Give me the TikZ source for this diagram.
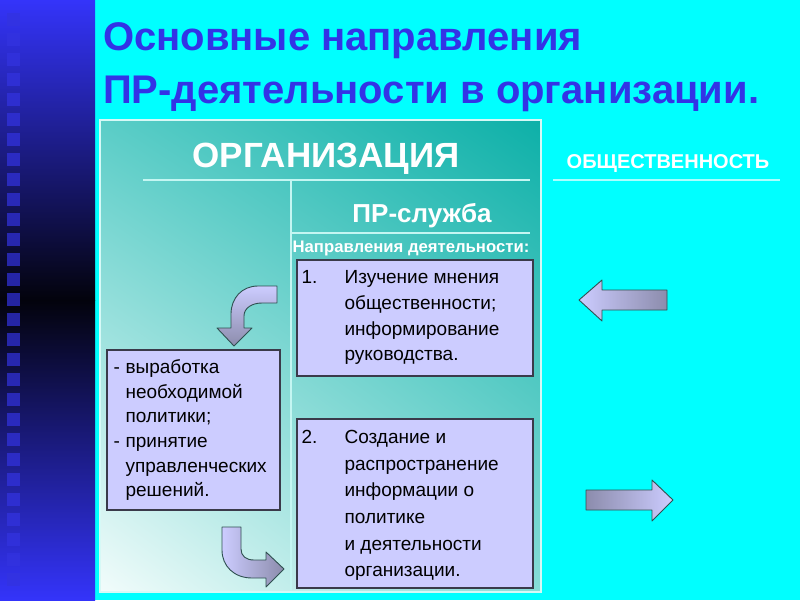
\documentclass[tikz,border=0pt]{standalone}
\usepackage{fontspec}
\setmainfont{Liberation Sans}
\usetikzlibrary{calc,shadings}
\definecolor{sky}{HTML}{00FFFF}
\definecolor{titleblue}{HTML}{3333E6}
\definecolor{stripblue}{HTML}{3434FA}
\definecolor{stripdark}{HTML}{03030C}
\definecolor{dotblue}{HTML}{3333E0}
\definecolor{tealdark}{HTML}{0DB0A8}
\definecolor{tealmid}{HTML}{5ACDC7}
\definecolor{teallight}{HTML}{F2FCFB}
\definecolor{tealsoft}{HTML}{86DCD7}
\definecolor{rule}{HTML}{C4F6F2}
\definecolor{skyrule}{HTML}{A8FFFF}
\definecolor{lavender}{HTML}{CCCCFF}
\definecolor{lavdark}{HTML}{8C8CAC}
\definecolor{arrowline}{HTML}{2F5050}
\definecolor{boxline}{HTML}{3A3A4A}
\tikzset{
  heading/.style={text=white,font=\bfseries\fontsize{#1}{#1}\selectfont,inner sep=0pt,anchor=base},
  titletext/.style={text=titleblue,font=\bfseries\fontsize{40}{40}\selectfont,inner sep=0pt,anchor=base west},
  infobox/.style={draw=boxline,line width=1.2pt,fill=lavender,inner sep=0pt},
  boxtext/.style={anchor=north west,inner sep=0pt,align=left},
  panelline/.style={draw=rule,line width=1.3pt},
  blockarrow/.style={draw=arrowline,line width=0.9pt,line join=round}
}

\begin{document}
\begin{tikzpicture}[x=1pt,y=-1pt]
  \useasboundingbox (0,0) rectangle (800,600);
  \fill[sky] (0,0) rectangle (800,600);
  % left strip
  \shade[top color=stripblue,bottom color=stripdark] (0,0) rectangle (95,300);
  \shade[top color=stripdark,bottom color=stripblue] (0,300) rectangle (95,600);
  \foreach \k in {0,...,28}
    \fill[dotblue,opacity=.7] (7,{13+20*\k}) rectangle +(13,13);

  \node[titletext] (title1) at (103,50) {Основные направления};
  \node[titletext] (title2) at (103,103) {ПР-деятельности в организации.};

  % organisation panel
  \shade[upper left=tealmid,upper right=tealdark,lower left=teallight,lower right=tealsoft]
    (100,120) rectangle (541,592);
  \draw[draw=rule!70!white,line width=1.5pt] (100,120) rectangle (541,592);
  \node[heading=35] (org) at (326,167) {ОРГАНИЗАЦИЯ};
  \coordinate (orgrule west) at (143,180);
  \coordinate (orgrule east) at (530,180);
  \coordinate (split top) at (291,180);
  \coordinate (split bottom) at (291,590);
  \draw[panelline] (orgrule west) -- (orgrule east);
  \draw[panelline] (split top) -- (split bottom);
  \node[heading=26] (pr) at (422,222) {ПР-служба};
  \coordinate (prrule west) at (291,233);
  \coordinate (prrule east) at (530,233);
  \draw[panelline] (prrule west) -- (prrule east);
  \node[heading=16.7] (dirs) at (411,252) {Направления деятельности:};

  % boxes
  \node[infobox,minimum width=236,minimum height=116] (box1) at (415,318) {};
  \node[boxtext,font=\fontsize{19}{25.8}\selectfont] (box1txt) at ($(box1.north west)+(5,5.9)$)
    {\begin{tabular}{@{}p{43pt}@{}l@{}}
      1. & Изучение мнения\\
         & общественности;\\
         & информирование\\
         & руководства.
    \end{tabular}};
  \node[infobox,minimum width=236,minimum height=169] (box2) at (415,503.5) {};
  \node[boxtext,font=\fontsize{19}{26.6}\selectfont] (box2txt) at ($(box2.north west)+(5,6.4)$)
    {\begin{tabular}{@{}p{43pt}@{}l@{}}
      2. & Создание и\\
         & распространение\\
         & информации о\\
         & политике\\
         & и деятельности\\
         & организации.
    \end{tabular}};
  \node[infobox,minimum width=173,minimum height=160] (policy) at (193.5,430) {};
  \node[boxtext,font=\fontsize{19}{24.6}\selectfont] (policytxt) at ($(policy.north west)+(7,6.8)$)
    {\begin{tabular}{@{}p{12pt}@{}l@{}}
      - & выработка\\
        & необходимой\\
        & политики;\\
      - & принятие\\
        & управленческих\\
        & решений.
    \end{tabular}};

  % curved arrows
  \path[blockarrow,top color=lavender,bottom color=lavdark]
    (277,286) -- (258,286) .. controls (242,286) and (231,298) .. (231,314)
    -- (231,328) -- (217,328) -- (234,346) -- (252,328) -- (244,328) -- (244,316)
    .. controls (244,308) and (252,303) .. (262,303) -- (277,303) -- cycle;
  \path[blockarrow,left color=lavender,right color=lavdark]
    (222,527) -- (241,527) -- (241,549) .. controls (241,556) and (246,560) .. (254,560)
    -- (266,560) -- (266,552) -- (284,569) -- (266,587) -- (266,578) -- (252,578)
    .. controls (234,578) and (222,566) .. (222,550) -- cycle;

  % public
  \node[heading=20] (public) at (668,168) {ОБЩЕСТВЕННОСТЬ};
  \coordinate (pubrule west) at (553,180);
  \coordinate (pubrule east) at (780,180);
  \draw[draw=skyrule,line width=2pt] (pubrule west) -- (pubrule east);

  % straight arrows
  \path[blockarrow,left color=lavender,right color=lavdark]
    (667,290) -- (602,290) -- (602,280) -- (579,300) -- (602,321) -- (602,310) -- (667,310) -- cycle;
  \path[blockarrow,left color=lavdark,right color=lavender]
    (586,490) -- (652,490) -- (652,480) -- (673,500) -- (652,521) -- (652,510) -- (586,510) -- cycle;
\end{tikzpicture}
\end{document}
